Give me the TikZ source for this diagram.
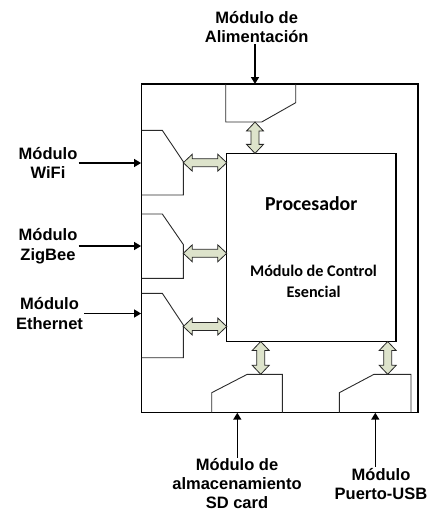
\documentclass[tikz,border=0pt]{standalone}
\usepackage{fontspec}
\setmainfont{Liberation Sans}
\newfontfamily\calibri{Carlito}
\usetikzlibrary{arrows.meta,calc}
\definecolor{arrowfill}{HTML}{DDE3CB}
\definecolor{modline}{HTML}{2A2A2A}
\begin{document}
\begin{tikzpicture}[x=1pt,y=-1pt,
  lbl/.style={font=\fontsize{16.5}{19.5}\selectfont\bfseries, align=center, inner sep=1pt},
  inarrow/.style={line width=1.5pt, -{Triangle[length=7pt,width=8pt]}},
  modshape/.style={draw=modline, line width=0.9pt},
  darrowstyle/.style={draw=black!85, line width=0.8pt, fill=arrowfill, line join=miter},
  bigbox/.style={draw, line width=1.3pt, inner sep=0pt},
  pics/dblarr/.style={code={
    \draw[darrowstyle] (-#1/2,0) -- ++(9,-8.5) -- ++(0,4.5) -- (#1/2-9,-4) -- ++(0,-4.5)
      -- (#1/2,0) -- ++(-9,8.5) -- ++(0,-4.5) -- (-#1/2+9,4) -- ++(0,4.5) -- cycle;
  }}]
\useasboundingbox (0,0) rectangle (431,512);
% outer box and processor
\node[bigbox, minimum width=276.3pt, minimum height=328.7pt] (outer) at (279.85,248.35) {};
\node[bigbox, minimum width=169.3pt, minimum height=188.2pt] (proc) at (311.35,247.4) {};
\node[font=\calibri\bfseries\fontsize{19.8}{22}\selectfont] (proctitle) at (311.3,203.3) {Procesador};
\node[font=\calibri\bfseries\fontsize{16.2}{21}\selectfont, align=center] (proctext) at (313.5,281.2) {Módulo de Control\\Esencial};
% modules
\draw[modshape] (225.7,84) -- (225.7,122) -- (261.7,122) -- (295.7,102.7) -- (295.7,84);
\draw[modshape] (141.7,130.3) -- (162.3,130.3) -- (183.3,161.7) -- (183.3,195) -- (141.7,195);
\draw[modshape] (141.7,214) -- (162.3,214) -- (183.3,244.5) -- (183.3,278.3) -- (141.7,278.3);
\draw[modshape] (141.7,293.3) -- (162.3,293.3) -- (183.3,325) -- (183.3,357.7) -- (141.7,357.7);
\draw[modshape] (211.7,412.7) -- (211.7,392.7) -- (247.3,374.3) -- (282.3,374.3) -- (282.3,412.7);
\draw[modshape] (339.3,412.7) -- (339.3,392.7) -- (374,374.3) -- (411,374.3) -- (411,412.7);
% double arrows
\pic (dwifi) at (205,162.7) {dblarr=43.4};
\pic (dzig) at (205,253.3) {dblarr=43.4};
\pic (deth) at (205,326.5) {dblarr=43.4};
\pic[rotate=90] (dtop) at (255,137.7) {dblarr=31.3};
\pic[rotate=90] (dsd) at (260.7,357.9) {dblarr=32.8};
\pic[rotate=90] (dusb) at (387.7,357.9) {dblarr=32.8};
% labels
\node[lbl] (lalim) at (256.7,27) {Módulo de\\Alimentación};
\node[lbl] (lwifi) at (48,163) {Módulo\\WiFi};
\node[lbl] (lzig) at (48,246) {Módulo\\ZigBee};
\node[lbl] (leth) at (49.5,313.5) {Módulo\\Ethernet};
\node[lbl, font=\fontsize{16.5}{19}\selectfont\bfseries] (lsd) at (237,484) {Módulo de\\almacenamiento\\SD card};
\node[lbl] (lusb) at (381,484) {Módulo\\Puerto-USB};
% input arrows
\coordinate (topin) at (255,84);
\coordinate (sdin) at (237.3,412.7);
\coordinate (usbin) at (375.3,412.7);
\draw[inarrow] (lalim.south -| topin) -- (topin);
\draw[inarrow] (lwifi.east) -- (outer.west |- lwifi.east);
\draw[inarrow] (lzig.east) -- (outer.west |- lzig.east);
\draw[inarrow] (leth.east) -- (outer.west |- leth.east);
\draw[inarrow] (lsd.north -| sdin) -- (sdin);
\draw[inarrow] (lusb.north -| usbin) -- (usbin);
\end{tikzpicture}
\end{document}
